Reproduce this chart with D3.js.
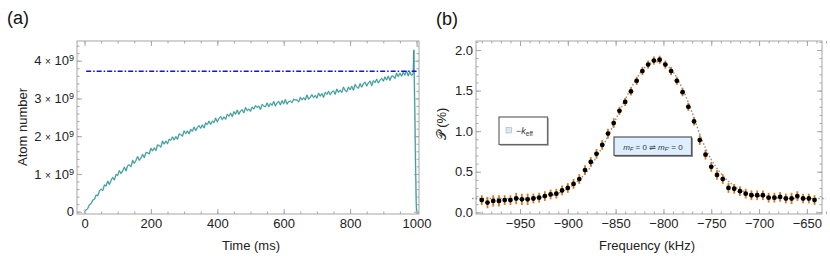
<!DOCTYPE html>
<html>
<head>
<meta charset="utf-8">
<script src="https://cdn.jsdelivr.net/npm/d3@7"></script>
<style>
  body { margin: 0; background: #fff; }
  svg { display: block; font-family: "Liberation Sans", Arial, sans-serif; }
</style>
</head>
<body>
<svg id="chart" width="830" height="256"></svg>
<script>
// ---- panel (a): atom number vs time, units of 1e9 ----
var timeStep = 5
var atomNumber = [
  0.00, 0.04, 0.09, 0.19, 0.21, 0.31, 0.33, 0.44, 0.42, 0.55,
  0.60, 0.56, 0.71, 0.68, 0.81, 0.72, 0.83, 0.91, 0.84, 0.99,
  0.96, 1.09, 1.01, 1.08, 1.18, 1.08, 1.22, 1.24, 1.19, 1.36,
  1.28, 1.36, 1.46, 1.36, 1.42, 1.52, 1.43, 1.57, 1.56, 1.53,
  1.68, 1.61, 1.69, 1.62, 1.77, 1.75, 1.71, 1.87, 1.79, 1.87,
  1.80, 1.92, 1.89, 1.98, 1.90, 1.99, 1.92, 2.06, 2.04, 2.00,
  2.14, 2.07, 2.14, 2.06, 2.18, 2.13, 2.24, 2.15, 2.23, 2.28,
  2.21, 2.30, 2.22, 2.35, 2.31, 2.40, 2.31, 2.40, 2.36, 2.48,
  2.38, 2.47, 2.52, 2.44, 2.51, 2.45, 2.58, 2.53, 2.61, 2.52,
  2.65, 2.58, 2.69, 2.58, 2.67, 2.70, 2.62, 2.76, 2.68, 2.72,
  2.66, 2.77, 2.72, 2.81, 2.76, 2.80, 2.71, 2.84, 2.80, 2.78,
  2.88, 2.78, 2.87, 2.82, 2.92, 2.80, 2.89, 2.92, 2.83, 2.94,
  2.86, 2.97, 2.85, 2.92, 2.93, 2.89, 2.98, 2.96, 2.96, 2.91,
  3.03, 2.96, 3.02, 2.96, 3.09, 2.98, 3.03, 3.10, 3.02, 3.08,
  3.01, 3.14, 3.06, 3.13, 3.03, 3.16, 3.11, 3.19, 3.10, 3.17,
  3.20, 3.11, 3.25, 3.16, 3.22, 3.16, 3.30, 3.21, 3.18, 3.30,
  3.23, 3.32, 3.22, 3.37, 3.30, 3.27, 3.39, 3.30, 3.39, 3.43,
  3.33, 3.41, 3.46, 3.34, 3.47, 3.42, 3.51, 3.41, 3.48, 3.53,
  3.46, 3.57, 3.49, 3.59, 3.48, 3.59, 3.59, 3.53, 3.67, 3.58,
  3.67, 3.59, 3.69, 3.62, 3.73, 3.60, 3.70, 3.61, 3.65
]
// end of the loading: spike then release
var tailTimes = [992, 993, 995, 997, 999, 1000]
var tailValues = [4.28, 3.70, 2.60, 1.30, 0.30, 0.02]
var steadyLevel = 3.72

var timeTicks = [0, 200, 400, 600, 800, 1000]
var atomTicks = [0, 1, 2, 3, 4]

// ---- panel (b): spectroscopy ----
var freqStart = -990, freqStep = 6
var probability = [
  0.15, 0.12, 0.14, 0.14, 0.15, 0.15, 0.17, 0.16, 0.16, 0.17,
  0.18, 0.20, 0.22, 0.23, 0.27, 0.30, 0.35, 0.41, 0.52, 0.62,
  0.72, 0.83, 0.97, 1.10, 1.25, 1.36, 1.49, 1.62, 1.74, 1.82,
  1.87, 1.88, 1.82, 1.74, 1.62, 1.48, 1.30, 1.12, 0.89, 0.71,
  0.56, 0.46, 0.41, 0.30, 0.29, 0.26, 0.23, 0.21, 0.21, 0.21,
  0.18, 0.18, 0.19, 0.17, 0.17, 0.20, 0.17, 0.17, 0.15
]
var probError = [
  0.06, 0.07, 0.07, 0.07, 0.06, 0.06, 0.07, 0.07, 0.07, 0.06,
  0.06, 0.06, 0.06, 0.06, 0.06, 0.06, 0.06, 0.06, 0.06, 0.06,
  0.06, 0.06, 0.06, 0.06, 0.05, 0.05, 0.05, 0.05, 0.05, 0.05,
  0.05, 0.05, 0.05, 0.05, 0.05, 0.05, 0.05, 0.05, 0.06, 0.06,
  0.06, 0.06, 0.06, 0.06, 0.06, 0.06, 0.06, 0.06, 0.06, 0.06,
  0.06, 0.06, 0.06, 0.06, 0.07, 0.06, 0.06, 0.06, 0.06
]
var fitFreq = [-1000, -990, -980, -970, -960, -950, -940, -930, -920, -910,
  -900, -890, -880, -870, -860, -850, -840, -830, -820, -810,
  -800, -790, -780, -770, -760, -750, -740, -730, -720, -710,
  -700, -690, -680, -670, -660, -650, -640, -630]
var fitValue = [0.17, 0.17, 0.17, 0.17, 0.17, 0.17, 0.177, 0.186, 0.20, 0.235,
  0.29, 0.38, 0.50, 0.68, 0.89, 1.14, 1.39, 1.61, 1.78, 1.85,
  1.84, 1.73, 1.52, 1.23, 0.90, 0.65, 0.48, 0.36, 0.28, 0.23,
  0.20, 0.185, 0.175, 0.17, 0.17, 0.17, 0.17, 0.17]
var freqTicks = [-950, -900, -850, -800, -750, -700, -650]
var probTicks = [0, 0.5, 1.0, 1.5, 2.0]

var svg = d3.select('#chart')
var frameTop = 41, frameBottom = 214
var panelA = {left: 77, right: 419}
var panelB = {left: 476, right: 822}

// draws a Mathematica-like frame with inward ticks on all four sides
function drawFrame(g, x, y, w, h, xMaj, xMin, yMaj, yMin, xFmt, yFmt) {
    var gray = '#a6a6a6'
    function ax(axis, tx, ty, cls) {
        var a = g.append('g').attr('class', cls).attr('transform', 'translate(' + tx + ',' + ty + ')').call(axis)
        a.select('.domain').remove()
        a.selectAll('line').attr('stroke', gray)
        a.selectAll('text').attr('fill', '#222').style('font-size', '13px')
        return a
    }
    ax(d3.axisBottom(x).tickValues(xMin).tickSize(-2.5).tickFormat(''), 0, h, 'minor')
    ax(d3.axisTop(x).tickValues(xMin).tickSize(-2.5).tickFormat(''), 0, 0, 'minor')
    ax(d3.axisLeft(y).tickValues(yMin).tickSize(-2.5).tickFormat(''), 0, 0, 'minor')
    ax(d3.axisRight(y).tickValues(yMin).tickSize(-2.5).tickFormat(''), w, 0, 'minor')
    ax(d3.axisTop(x).tickValues(xMaj).tickSize(-5).tickFormat(''), 0, 0, 'major')
    ax(d3.axisRight(y).tickValues(yMaj).tickSize(-5).tickFormat(''), w, 0, 'major')
    var xb = ax(d3.axisBottom(x).tickValues(xMaj).tickSize(-5).tickPadding(5).tickFormat(xFmt), 0, h, 'major')
    var yl = ax(d3.axisLeft(y).tickValues(yMaj).tickSize(-5).tickPadding(3).tickFormat(yFmt), 0, 0, 'major')
    g.append('rect').attr('width', w).attr('height', h)
        .attr('fill', 'none').attr('stroke', gray).attr('stroke-width', 1)
    return {xb: xb, yl: yl}
}

// ---------- panel (a) ----------
var wA = panelA.right - panelA.left, h = frameBottom - frameTop
var gA = svg.append('g').attr('transform', 'translate(' + panelA.left + ',' + frameTop + ')')
var xA = d3.scaleLinear().domain([-22.6, 1007.5]).range([0, wA])
var yA = d3.scaleLinear().domain([-0.061, 4.522]).range([h, 0])

var axA = drawFrame(gA, xA, yA, wA, h, timeTicks, d3.range(0, 1001, 50), atomTicks, d3.range(0, 4.41, 0.2),
    d3.format('d'), function (d) { return d })
axA.yl.selectAll('.tick text').each(function (d) {
    var t = d3.select(this).text('')
    if (d === 0) { t.text('0'); return }
    t.append('tspan').text(d + ' ')
    t.append('tspan').text('×').style('font-size', '10px')
    t.append('tspan').text(' 10')
    t.append('tspan').text('9').attr('dy', '-0.45em').style('font-size', '9px')
})

var traceA = atomNumber.map(function (v, i) { return [i * timeStep, v] })
    .concat(tailTimes.map(function (t, i) { return [t, tailValues[i]] }))
var lineA = d3.line().x(function (d) { return xA(d[0]) }).y(function (d) { return yA(d[1]) })
gA.append('path').datum(traceA).attr('d', lineA)
    .attr('fill', 'none').attr('stroke', '#a9dada').attr('stroke-width', 1.7).attr('stroke-linejoin', 'round')
gA.append('path').datum(traceA).attr('d', lineA)
    .attr('fill', 'none').attr('stroke', '#2a8686').attr('stroke-width', 0.8)
gA.append('line')
    .attr('x1', xA(5)).attr('x2', xA(1000))
    .attr('y1', yA(steadyLevel)).attr('y2', yA(steadyLevel))
    .attr('stroke', '#1515d6').attr('stroke-width', 1.5).attr('stroke-dasharray', '5,2,1.5,2')

svg.append('text').attr('x', 7).attr('y', 24).style('font-size', '18px').attr('fill', '#111').text('(a)')
svg.append('text').attr('x', 251).attr('y', 250).attr('text-anchor', 'middle')
    .style('font-size', '13px').attr('fill', '#222').text('Time (ms)')
svg.append('text').attr('transform', 'translate(27,127) rotate(-90)').attr('text-anchor', 'middle')
    .style('font-size', '13px').attr('fill', '#222').text('Atom number')

// ---------- panel (b) ----------
var wB = panelB.right - panelB.left
var gB = svg.append('g').attr('transform', 'translate(' + panelB.left + ',' + frameTop + ')')
var xB = d3.scaleLinear().domain([-996, -634.2]).range([0, wB])
var yB = d3.scaleLinear().domain([-0.021, 2.111]).range([h, 0])

drawFrame(gB, xB, yB, wB, h, freqTicks, d3.range(-990, -629, 10), probTicks, d3.range(0, 2.11, 0.1),
    d3.format('d'), d3.format('.1f'))

var fitLine = d3.line().curve(d3.curveCatmullRom)
    .x(function (d, i) { return xB(d) }).y(function (d, i) { return yB(fitValue[i]) })
gB.append('path').datum(fitFreq).attr('d', fitLine)
    .attr('fill', 'none').attr('stroke', '#8c8c8c').attr('stroke-width', 1.4).attr('stroke-dasharray', '1.5,2')

var pts = probability.map(function (v, i) { return {f: freqStart + i * freqStep, p: v, e: probError[i]} })
gB.selectAll('line.err').data(pts).enter().append('line').attr('class', 'err')
    .attr('x1', function (d) { return xB(d.f) }).attr('x2', function (d) { return xB(d.f) })
    .attr('y1', function (d) { return yB(d.p - d.e) }).attr('y2', function (d) { return yB(d.p + d.e) })
    .attr('stroke', '#d9791c').attr('stroke-width', 1.8)
gB.selectAll('circle.pt').data(pts).enter().append('circle').attr('class', 'pt')
    .attr('cx', function (d) { return xB(d.f) }).attr('cy', function (d) { return yB(d.p) })
    .attr('r', 2.4).attr('fill', '#000')

// legends
var leg1 = svg.append('g').attr('transform', 'translate(499,117)')
leg1.append('rect').attr('x', 1).attr('y', 1).attr('width', 49).attr('height', 28).attr('fill', '#bbb')
leg1.append('rect').attr('width', 48.5).attr('height', 27.5).attr('fill', '#fff').attr('stroke', '#666').attr('stroke-width', 1.2)
leg1.append('rect').attr('x', 7).attr('y', 10.5).attr('width', 5.5).attr('height', 5.5)
    .attr('fill', '#d8e8f6').attr('stroke', '#9fb4c8').attr('stroke-width', 0.6)
var t1 = leg1.append('text').attr('x', 17).attr('y', 16.5).style('font-size', '9px').attr('fill', '#333')
t1.append('tspan').text('−')
t1.append('tspan').text('k').style('font-style', 'italic')
t1.append('tspan').text('eff').attr('dy', '2').style('font-size', '6.5px')

var leg2 = svg.append('g').attr('transform', 'translate(614,137)')
leg2.append('rect').attr('x', 1).attr('y', 1).attr('width', 78).attr('height', 19).attr('fill', '#999')
leg2.append('rect').attr('width', 77.5).attr('height', 18.5).attr('fill', '#ddeeff').attr('stroke', '#555').attr('stroke-width', 1.2)
var t2 = leg2.append('text').attr('x', 39).attr('y', 12.5).attr('text-anchor', 'middle')
    .style('font-size', '8px').attr('fill', '#333')
t2.append('tspan').text('m').style('font-style', 'italic')
t2.append('tspan').text('F').attr('dy', '1.5').style('font-size', '5.5px').style('font-style', 'italic')
t2.append('tspan').text(' = 0 ').attr('dy', '-1.5')
t2.append('tspan').text('⇌').style('font-family', 'DejaVu Sans')
t2.append('tspan').text(' ')
t2.append('tspan').text('m').style('font-style', 'italic')
t2.append('tspan').text('F′').attr('dy', '1.5').style('font-size', '5.5px').style('font-style', 'italic')
t2.append('tspan').text(' = 0').attr('dy', '-1.5')

svg.append('text').attr('x', 436).attr('y', 25).style('font-size', '18px').attr('fill', '#111').text('(b)')
svg.append('text').attr('x', 647).attr('y', 250).attr('text-anchor', 'middle')
    .style('font-size', '13px').attr('fill', '#222').text('Frequency (kHz)')
svg.append('text').attr('transform', 'translate(446,124) rotate(-90)').attr('text-anchor', 'middle')
    .style('font-size', '13px').attr('fill', '#222').text('𝒫 (%)')
</script>
</body>
</html>
